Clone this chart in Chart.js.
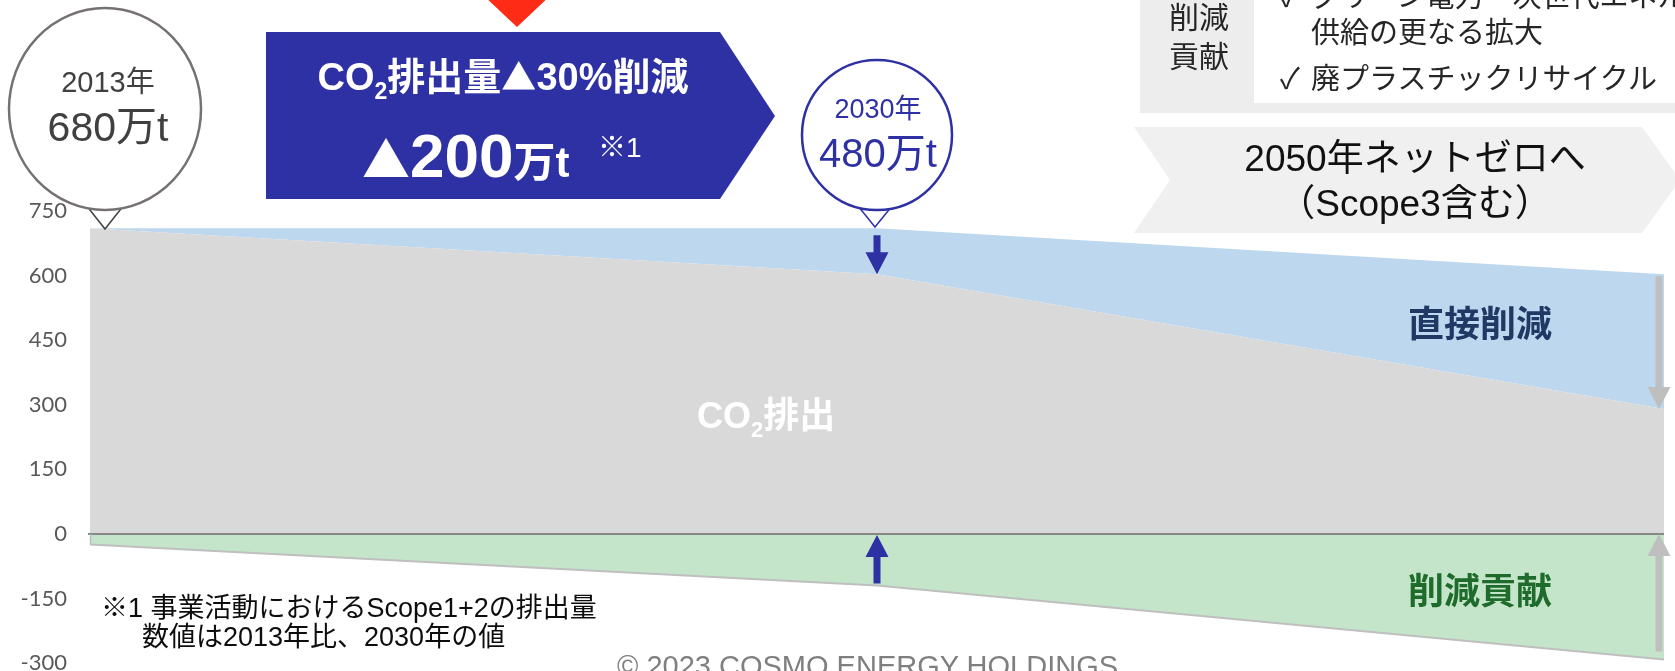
<!DOCTYPE html>
<html lang="ja">
<head>
<meta charset="utf-8">
<title>CO2排出量 削減ロードマップ</title>
<script src="https://cdn.jsdelivr.net/npm/chart.js@4.4.1/dist/chart.umd.min.js"></script>
<style>
  html, body { margin: 0; padding: 0; background: #ffffff; overflow: hidden; }
  #wrap { position: relative; width: 1675px; height: 671px; }
  #chart, #deco { position: absolute; left: 0; top: 0; }
  #deco { pointer-events: none; }
  .jp { font-family: "Liberation Sans", "Noto Sans CJK JP", sans-serif; }
  .cjk { font-family: "Noto Sans CJK JP", sans-serif; }
</style>
</head>
<body>
<div id="wrap">
  <canvas id="chart" width="1675" height="671"></canvas>
  <svg id="deco" width="1675" height="671" xmlns="http://www.w3.org/2000/svg">
    <!-- red pointer above the target banner -->
    <polygon points="482,-6 552,-6 517,27" fill="#FE2C17"/>
    <!-- target banner -->
    <polygon points="266,32 720,32 775,116 720,199 266,199" fill="#2E31A3"/>
    <text class="jp" x="503" y="90" text-anchor="middle" fill="#ffffff" font-weight="bold" font-size="38">CO<tspan font-size="23" dy="9">2</tspan><tspan dy="-9">排出量</tspan><tspan class="cjk" font-size="35">▲</tspan><tspan>30%削減</tspan></text>
    <text class="jp" x="362" y="177" fill="#ffffff" font-weight="bold"><tspan class="cjk" font-size="48">▲</tspan><tspan font-size="62">200</tspan><tspan font-size="42">万t</tspan></text>
    <text class="jp" x="598" y="157" fill="#ffffff" font-size="28">※1</text>

    <!-- 2013 callout -->
    <polyline points="86,205 105,229 124,205" fill="#ffffff" stroke="#404040" stroke-width="1.5"/>
    <ellipse cx="105" cy="109" rx="96" ry="101" fill="#ffffff" stroke="#767171" stroke-width="2.5"/>
    <text class="jp" x="108" y="92" text-anchor="middle" fill="#404040" font-size="29">2013年</text>
    <text class="jp" x="108" y="141" text-anchor="middle" fill="#404040" font-size="41">680万t</text>

    <!-- 2030 callout -->
    <polyline points="858,206 875,227 892,206" fill="#ffffff" stroke="#2E31A3" stroke-width="1.5"/>
    <circle cx="877" cy="135" r="75" fill="#ffffff" stroke="#2E31A3" stroke-width="2.5"/>
    <text class="jp" x="878" y="118" text-anchor="middle" fill="#2E31A3" font-size="27">2030年</text>
    <text class="jp" x="878" y="167" text-anchor="middle" fill="#2E31A3" font-size="40">480万t</text>

    <!-- contribution measures box -->
    <rect x="1140" y="-10" width="545" height="123" fill="#EDEDED"/>
    <rect x="1254" y="-10" width="431" height="113" fill="#ffffff"/>
    <text class="jp" x="1199" y="28" text-anchor="middle" fill="#262626" font-size="30">削減</text>
    <text class="jp" x="1199" y="67" text-anchor="middle" fill="#262626" font-size="30">貢献</text>
    <text class="jp" x="1280" y="7" fill="#262626" font-size="29">✓</text>
    <text class="jp" x="1311" y="7" fill="#262626" font-size="29">グリーン電力・次世代エネルギー</text>
    <text class="jp" x="1311" y="43" fill="#262626" font-size="29">供給の更なる拡大</text>
    <text class="jp" x="1280" y="89" fill="#262626" font-size="29">✓</text>
    <text class="jp" x="1311" y="89" fill="#262626" font-size="29">廃プラスチックリサイクル</text>

    <!-- 2050 goal chevron -->
    <polygon points="1134,127 1642,127 1680,180 1642,233 1134,233 1170,180" fill="#F0F0F0"/>
    <text class="jp" x="1415" y="171" text-anchor="middle" fill="#111111" font-size="37">2050年ネットゼロへ</text>
    <text class="jp" x="1415" y="216" text-anchor="middle" fill="#111111" font-size="37">（Scope3含む）</text>

    <!-- series labels inside the areas -->
    <text class="jp" x="697" y="428" fill="#ffffff" font-weight="bold" font-size="36">CO<tspan font-size="22" dy="9">2</tspan><tspan dy="-9">排出</tspan></text>
    <text class="jp" x="1480" y="337" text-anchor="middle" fill="#203864" font-weight="bold" font-size="36">直接削減</text>
    <text class="jp" x="1480" y="604" text-anchor="middle" fill="#1E6B2B" font-weight="bold" font-size="36">削減貢献</text>

    <!-- footnote and copyright -->
    <text class="jp" x="101" y="617" fill="#0D0D0D" font-size="27">※1 事業活動におけるScope1+2の排出量</text>
    <text class="jp" x="142" y="646" fill="#0D0D0D" font-size="27">数値は2013年比、2030年の値</text>
    <text class="jp" x="617" y="676" fill="#7F7F7F" font-size="29">© 2023 COSMO ENERGY HOLDINGS</text>
  </svg>
</div>
<script>
  // Years on the horizontal axis (evenly spaced milestones)
  const years = ['2013', '2030', '2050'];
  // CO2 emissions (grey area, 万t scale of the axis)
  const emissions = [710, 603, 290];
  // Direct reduction band stacked on top of emissions (blue)
  const directCut = [0, 107, 313];
  // Reduction contribution below zero (green)
  const contribution = [-25, -120, -292];
  // Vertical axis tick labels
  const yTicks = [750, 600, 450, 300, 150, 0, -150, -300];

  const totalTop = emissions.map((v, i) => v + directCut[i]);

  function drawArrow(ctx, x, yFrom, yTo, color) {
    const dir = Math.sign(yTo - yFrom);
    const head = 22, hw = 11.5, sw = 3.5;
    const yBase = yTo - dir * head;
    ctx.save();
    ctx.fillStyle = color;
    ctx.beginPath();
    ctx.moveTo(x - sw, yFrom);
    ctx.lineTo(x + sw, yFrom);
    ctx.lineTo(x + sw, yBase);
    ctx.lineTo(x + hw, yBase);
    ctx.lineTo(x, yTo);
    ctx.lineTo(x - hw, yBase);
    ctx.lineTo(x - sw, yBase);
    ctx.closePath();
    ctx.fill();
    ctx.restore();
  }

  const reductionArrows = {
    id: 'reductionArrows',
    afterDatasetsDraw(chart) {
      const { ctx, chartArea, scales: { x, y } } = chart;
      // zero baseline across the plot
      const y0 = Math.round(y.getPixelForValue(0));
      ctx.save();
      ctx.strokeStyle = '#878787';
      ctx.lineWidth = 2;
      ctx.beginPath();
      ctx.moveTo(chartArea.left - 2, y0);
      ctx.lineTo(chartArea.right, y0);
      ctx.stroke();
      // left edge of the contribution area
      ctx.strokeStyle = '#BFBFBF';
      ctx.lineWidth = 1.5;
      ctx.beginPath();
      ctx.moveTo(chartArea.left + 0.5, y0);
      ctx.lineTo(chartArea.left + 0.5, y.getPixelForValue(contribution[0]));
      ctx.stroke();
      ctx.restore();

      const navy = '#2E31A3', grey = '#BFBFBF';
      const x1 = x.getPixelForValue(1);
      drawArrow(ctx, x1, y.getPixelForValue(totalTop[1]) + 7, y.getPixelForValue(emissions[1]), navy);
      drawArrow(ctx, x1, y.getPixelForValue(contribution[1]) - 2, y0 + 1, navy);
      const x2 = x.getPixelForValue(2) - 5;
      drawArrow(ctx, x2, y.getPixelForValue(totalTop[2]) + 2, y.getPixelForValue(emissions[2]), grey);
      drawArrow(ctx, x2, y.getPixelForValue(contribution[2]) - 8, y0, grey);
    }
  };

  new Chart(document.getElementById('chart'), {
    type: 'line',
    data: {
      labels: years,
      datasets: [
        { label: 'CO2排出', data: emissions, fill: 'origin', backgroundColor: '#D9D9D9',
          borderWidth: 0, pointRadius: 0, tension: 0 },
        { label: '直接削減', data: totalTop, fill: '-1', backgroundColor: '#BDD7EE',
          borderWidth: 0, pointRadius: 0, tension: 0 },
        { label: '削減貢献', data: contribution, fill: 'origin', backgroundColor: '#C4E5CA',
          borderColor: '#BFBFBF', borderWidth: 2, pointRadius: 0, tension: 0 }
      ]
    },
    options: {
      responsive: false,
      animation: false,
      layout: { padding: { top: 211, bottom: 8, left: 0, right: 11 } },
      plugins: { legend: { display: false }, tooltip: { enabled: false } },
      scales: {
        x: { display: false, offset: false },
        y: {
          min: -300, max: 750,
          afterBuildTicks: s => { s.ticks = yTicks.map(v => ({ value: v })); },
          afterFit: s => { s.width = 90; s.paddingTop = 0; s.paddingBottom = 0; },
          ticks: { color: '#595959', font: { family: 'Lato', size: 22 }, padding: 23 },
          grid: { display: false, drawTicks: false },
          border: { display: false }
        }
      }
    },
    plugins: [reductionArrows]
  });
</script>
</body>
</html>
